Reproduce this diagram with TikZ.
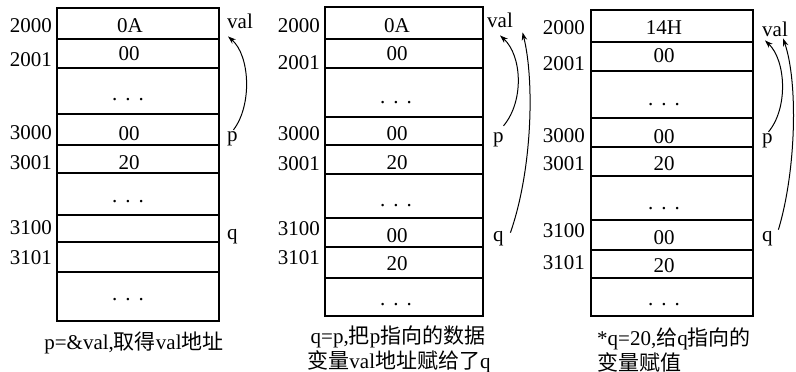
\documentclass[tikz,border=0pt]{standalone}
\usepackage{fontspec}
\setmainfont{Liberation Serif}
\newfontfamily\cjk{Noto Sans CJK SC}
\usetikzlibrary{arrows.meta}
\begin{document}
\begin{tikzpicture}[x=1bp,y=-1bp,
  cell/.style={line width=1.1bp},
  txt/.style={inner sep=0pt, anchor=base, font=\fontsize{21bp}{25bp}\selectfont},
  addr/.style={txt, anchor=base east},
  lbl/.style={txt, anchor=base west},
  capl/.style={txt, anchor=base west},
  ptr/.style={line width=1bp, -{Stealth[length=8bp,width=5.5bp]}}
]
\newcommand{\mydots}{.\hspace{8bp}.\hspace{8bp}.}
\useasboundingbox (0,0) rectangle (796,371);

% ---------- panel 1 ----------
\draw[cell] (57,8) rectangle (219,321);
\foreach \yy in {39,68,114,145,173,215,242,272} \draw[cell] (57,\yy) -- (219,\yy);
\node[addr] (a1a) at (52,32) {2000};
\node[addr] (a1b) at (52,66) {2001};
\node[addr] (a1c) at (52,139) {3000};
\node[addr] (a1d) at (52,169) {3001};
\node[addr] (a1e) at (52,234) {3100};
\node[addr] (a1f) at (52,264) {3101};
\node[txt] (c1a) at (130,32) {0A};
\node[txt] (c1b) at (129,60) {00};
\node[txt] (d1a) at (128,100) {\mydots};
\node[txt] (c1c) at (129,140) {00};
\node[txt] (c1d) at (129,169) {20};
\node[txt] (d1b) at (128,202) {\mydots};
\node[txt] (d1c) at (128,300) {\mydots};
\node[lbl] (val1) at (227,28) {val};
\node[lbl] (p1) at (227,141) {p};
\node[lbl] (q1) at (227,239) {q};
\draw[ptr] ([shift={(1,-1)}]p1.north) .. controls +(19,-25) and +(22,19) .. ([shift={(1,8)}]val1.south west);
\node[txt] (cap1) at (134,349) {p=\&val,{\cjk 取得}val{\cjk 地址}};

% ---------- panel 2 ----------
\draw[cell] (325,7) rectangle (483,316);
\foreach \yy in {39,68,117,145,174,218,247,278} \draw[cell] (325,\yy) -- (483,\yy);
\node[addr] (a2a) at (320,32) {2000};
\node[addr] (a2b) at (320,69) {2001};
\node[addr] (a2c) at (320,140) {3000};
\node[addr] (a2d) at (320,170) {3001};
\node[addr] (a2e) at (320,235) {3100};
\node[addr] (a2f) at (320,264) {3101};
\node[txt] (c2a) at (397,32) {0A};
\node[txt] (c2b) at (397,60) {00};
\node[txt] (d2a) at (396,103) {\mydots};
\node[txt] (c2c) at (397,140) {00};
\node[txt] (c2d) at (397,169) {20};
\node[txt] (d2b) at (396,206) {\mydots};
\node[txt] (c2e) at (397,242) {00};
\node[txt] (c2f) at (397,270) {20};
\node[txt] (d2c) at (396,305) {\mydots};
\node[lbl] (val2) at (487,27) {val};
\node[lbl] (p2) at (493,142) {p};
\node[lbl] (q2) at (493,241) {q};
\draw[ptr] ([shift={(5,-6)}]p2.north) .. controls +(21,-25) and +(22,20) .. ([shift={(13,8)}]val2.south west);
\draw[ptr] ([shift={(6.5,2)}]q2.north east) .. controls +(22,-63) and +(12,48) .. ([shift={(9.5,5)}]val2.south east);
\node[txt] (cap2a) at (398,343) {q=p,{\cjk 把}p{\cjk 指向的数据}};
\node[txt] (cap2b) at (399,368) {{\cjk 变量}val{\cjk 地址赋给了}q};

% ---------- panel 3 ----------
\draw[cell] (591,10) rectangle (753,316);
\foreach \yy in {42,71,118,147,176,220,250,278} \draw[cell] (591,\yy) -- (753,\yy);
\node[addr] (a3a) at (585,34) {2000};
\node[addr] (a3b) at (585,70) {2001};
\node[addr] (a3c) at (585,142) {3000};
\node[addr] (a3d) at (585,170) {3001};
\node[addr] (a3e) at (585,237) {3100};
\node[addr] (a3f) at (585,269) {3101};
\node[txt] (c3a) at (664,34) {14H};
\node[txt] (c3b) at (664,62) {00};
\node[txt] (d3a) at (664,105) {\mydots};
\node[txt] (c3c) at (664,143) {00};
\node[txt] (c3d) at (664,170) {20};
\node[txt] (d3b) at (664,209) {\mydots};
\node[txt] (c3e) at (664,244) {00};
\node[txt] (c3f) at (664,272) {20};
\node[txt] (d3c) at (664,305) {\mydots};
\node[lbl] (val3) at (762,36) {val};
\node[lbl] (p3) at (762,143) {p};
\node[lbl] (q3) at (762,241) {q};
\draw[ptr] ([shift={(1,-1)}]p3.north) .. controls +(20,-24) and +(21,20) .. ([shift={(3,4)}]val3.south west);
\draw[ptr] ([shift={(5.5,-1)}]q3.north east) .. controls +(18,-60) and +(15,43) .. ([shift={(-5,2)}]val3.south east);
\node[capl] (cap3a) at (597,345) {*q=20,{\cjk 给}q{\cjk 指向的}};
\node[capl] (cap3b) at (597,370) {{\cjk 变量赋值}};
\end{tikzpicture}
\end{document}
